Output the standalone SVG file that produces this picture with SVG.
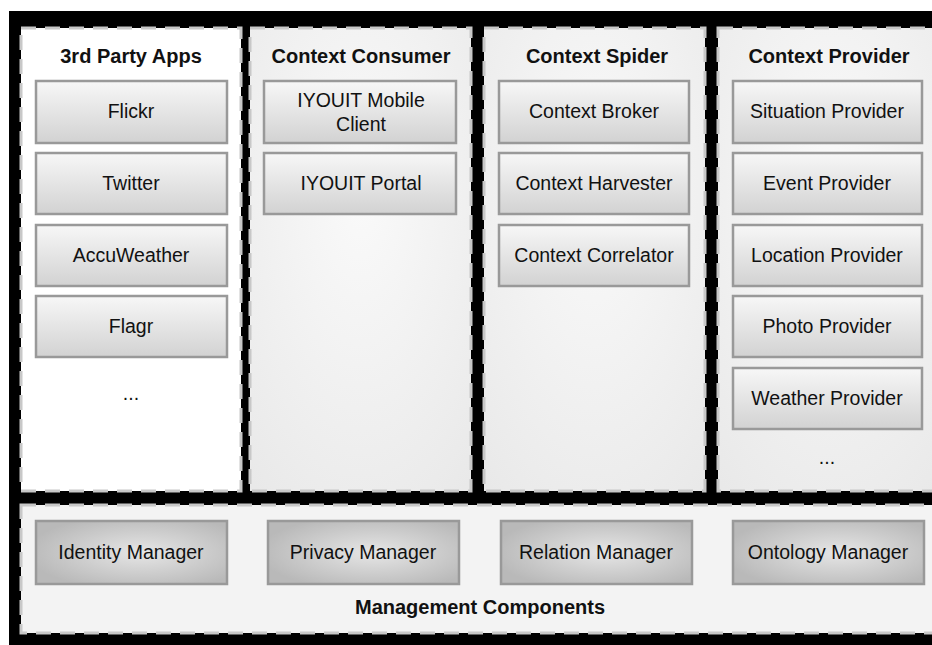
<svg xmlns="http://www.w3.org/2000/svg" width="932" height="645" viewBox="0 0 932 645">
<defs>
<linearGradient id="boxg" x1="0" y1="0" x2="0" y2="1">
<stop offset="0" stop-color="#f7f7f7"/>
<stop offset="1" stop-color="#d2d2d2"/>
</linearGradient>
<radialGradient id="mgrg" cx="0.55" cy="0.5" r="0.6">
<stop offset="0" stop-color="#e6e6e6"/>
<stop offset="1" stop-color="#b9b9b9"/>
</radialGradient>
<radialGradient id="panelg" cx="0.5" cy="0.35" r="0.8">
<stop offset="0" stop-color="#fafafa"/>
<stop offset="1" stop-color="#e9e9e9"/>
</radialGradient>
<style>
.panel{stroke:#c8c8c8;stroke-width:3;stroke-dasharray:15 9}
.box rect{fill:url(#boxg);stroke:#999;stroke-width:2.5}
.mgr rect{fill:url(#mgrg);stroke:#999;stroke-width:2.5}
text{font-family:"Liberation Sans",Arial,sans-serif;font-size:19.5px;fill:#111;text-anchor:middle}
.title{font-weight:bold;font-size:20px}
</style>
</defs>
<rect x="0" y="0" width="932" height="645" fill="#fff"/>
<rect x="9" y="11" width="935" height="640" fill="#000"/>
<g id="panel-3rd-party-apps">
<rect class="panel" x="21" y="28" width="220" height="463" fill="#fff"/>
<text class="title" x="131" y="63">3rd Party Apps</text>
</g>
<g id="panel-context-consumer">
<rect class="panel" x="250" y="28" width="221" height="463" fill="url(#panelg)"/>
<text class="title" x="361" y="63">Context Consumer</text>
</g>
<g id="panel-context-spider">
<rect class="panel" x="484" y="28" width="221" height="463" fill="url(#panelg)"/>
<text class="title" x="597" y="63">Context Spider</text>
</g>
<g id="panel-context-provider">
<rect class="panel" x="718" y="28" width="226" height="463" fill="url(#panelg)"/>
<text class="title" x="829" y="63">Context Provider</text>
</g>
<g id="panel-management">
<rect class="panel" x="21" y="505" width="923" height="128" fill="#f3f3f3"/>
<text class="title" x="480" y="614">Management Components</text>
</g>
<g id="flickr" class="box"><rect x="36" y="81" width="191" height="62"/><text x="131" y="118">Flickr</text></g>
<g id="twitter" class="box"><rect x="36" y="153" width="191" height="61"/><text x="131" y="190">Twitter</text></g>
<g id="accuweather" class="box"><rect x="36" y="225" width="191" height="61"/><text x="131" y="262">AccuWeather</text></g>
<g id="flagr" class="box"><rect x="36" y="296" width="191" height="61"/><text x="131" y="333">Flagr</text></g>
<g id="apps-more"><text x="131" y="400">...</text></g>
<g id="iyouit-mobile-client" class="box"><rect x="264" y="81" width="192" height="62"/><text x="361" y="107">IYOUIT Mobile</text><text x="361" y="131">Client</text></g>
<g id="iyouit-portal" class="box"><rect x="264" y="153" width="192" height="61"/><text x="361" y="190">IYOUIT Portal</text></g>
<g id="context-broker" class="box"><rect x="499" y="81" width="190" height="62"/><text x="594" y="118">Context Broker</text></g>
<g id="context-harvester" class="box"><rect x="499" y="153" width="190" height="61"/><text x="594" y="190">Context Harvester</text></g>
<g id="context-correlator" class="box"><rect x="499" y="225" width="190" height="61"/><text x="594" y="262">Context Correlator</text></g>
<g id="situation-provider" class="box"><rect x="733" y="81" width="189" height="62"/><text x="827" y="118">Situation Provider</text></g>
<g id="event-provider" class="box"><rect x="733" y="153" width="189" height="61"/><text x="827" y="190">Event Provider</text></g>
<g id="location-provider" class="box"><rect x="733" y="225" width="189" height="61"/><text x="827" y="262">Location Provider</text></g>
<g id="photo-provider" class="box"><rect x="733" y="296" width="189" height="61"/><text x="827" y="333">Photo Provider</text></g>
<g id="weather-provider" class="box"><rect x="733" y="368" width="189" height="61"/><text x="827" y="405">Weather Provider</text></g>
<g id="providers-more"><text x="827" y="464">...</text></g>
<g id="identity-manager" class="mgr"><rect x="36" y="521" width="191" height="63"/><text x="131" y="559">Identity Manager</text></g>
<g id="privacy-manager" class="mgr"><rect x="268" y="521" width="191" height="63"/><text x="363" y="559">Privacy Manager</text></g>
<g id="relation-manager" class="mgr"><rect x="501" y="521" width="191" height="63"/><text x="596" y="559">Relation Manager</text></g>
<g id="ontology-manager" class="mgr"><rect x="733" y="521" width="191" height="63"/><text x="828" y="559">Ontology Manager</text></g>
<g id="connectors"/>
</svg>
